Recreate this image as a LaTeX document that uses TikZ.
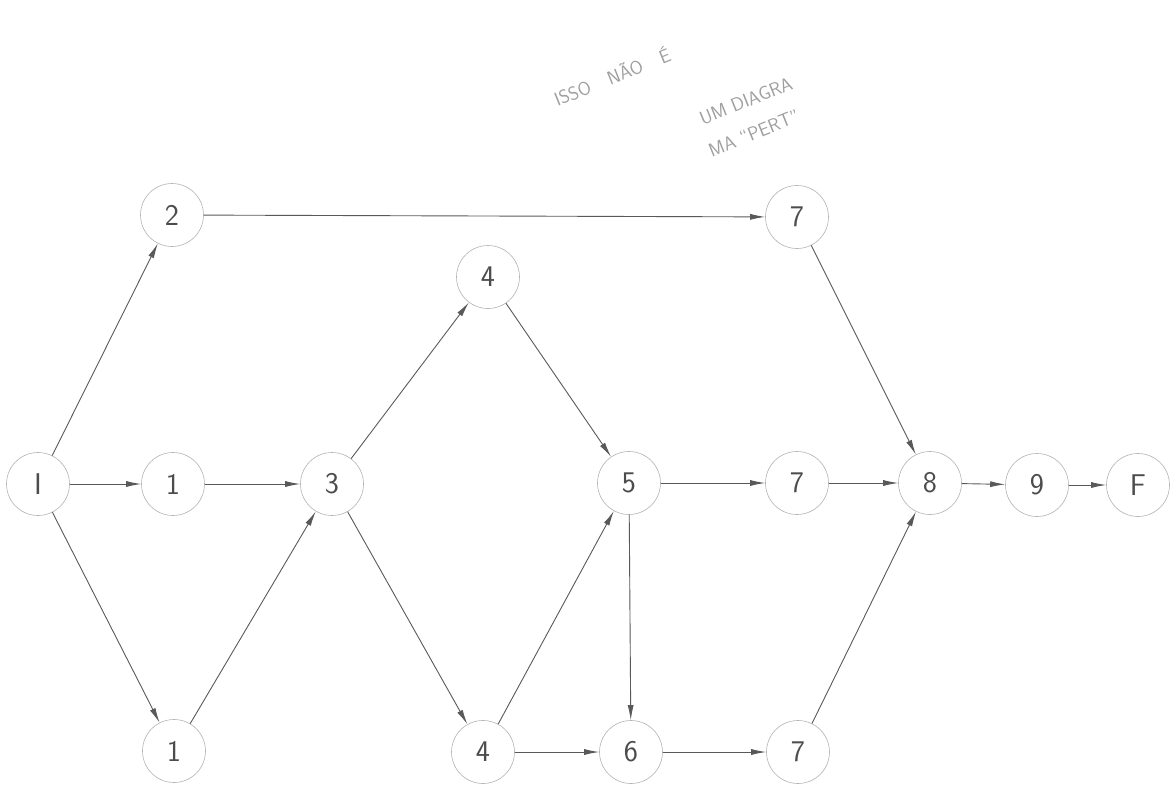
\documentclass[tikz,border=0pt]{standalone}
\usetikzlibrary{arrows.meta}
\begin{document}
\begin{tikzpicture}[x=1pt,y=-1pt,
  ev/.style={circle,draw=gray!60,line width=0.6pt,minimum size=63pt,inner sep=0pt,
    font=\fontsize{30}{32}\selectfont\sffamily,text=black!70},
  act/.style={draw=black!65,line width=0.9pt,-{Latex[length=15pt,width=6pt]}},
  note/.style={text=gray!75,font=\fontsize{19}{21}\selectfont\sffamily,rotate=22,inner sep=0pt}]
\useasboundingbox (0,0) rectangle (1173,787);
\node[ev] (I) at (38,484) {I};
\node[ev] (n1) at (173,484) {1};
\node[ev] (n3) at (332,484) {3};
\node[ev] (n2) at (172,215) {2};
\node[ev] (n1b) at (174,751) {1};
\node[ev] (n4t) at (488,277) {4};
\node[ev] (n4b) at (483,752) {4};
\node[ev] (n5) at (629,483) {5};
\node[ev] (n6) at (631,752) {6};
\node[ev] (n7t) at (797,217) {7};
\node[ev] (n7m) at (797,483) {7};
\node[ev] (n7b) at (798,752) {7};
\node[ev] (n8) at (930,483) {8};
\node[ev] (n9) at (1037,485) {9};
\node[ev] (F) at (1138,485) {F};
\draw[act] (I) -- (n1);
\draw[act] (n1) -- (n3);
\draw[act] (I) -- (n2);
\draw[act] (I) -- (n1b);
\draw[act] (n1b) -- (n3);
\draw[act] (n2) -- (n7t);
\draw[act] (n3) -- (n4t);
\draw[act] (n3) -- (n4b);
\draw[act] (n4t) -- (n5);
\draw[act] (n4b) -- (n5);
\draw[act] (n4b) -- (n6);
\draw[act] (n5) -- (n7m);
\draw[act] (n5) -- (n6);
\draw[act] (n7m) -- (n8);
\draw[act] (n7t) -- (n8);
\draw[act] (n7b) -- (n8);
\draw[act] (n6) -- (n7b);
\draw[act] (n8) -- (n9);
\draw[act] (n9) -- (F);
\node[note] (t1) at (612,76) {ISSO\quad NÃO\quad É};
\node[note] (t2) at (746,101) {UM DIAGRA};
\node[note] (t3) at (754,133) {MA ``PERT''};
\end{tikzpicture}
\end{document}
